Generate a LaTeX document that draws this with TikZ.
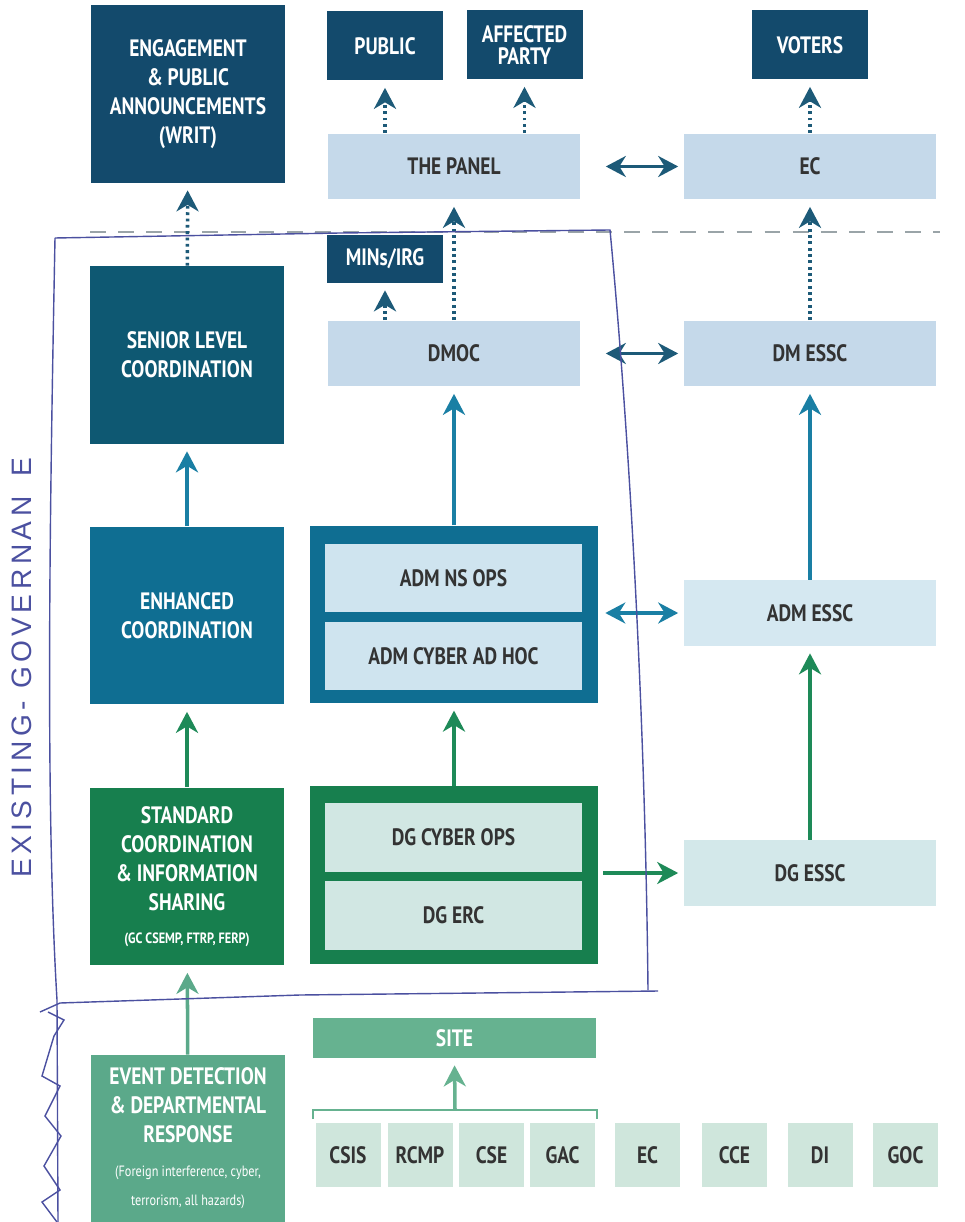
\documentclass[tikz,border=0pt]{standalone}
\usepackage{fontspec}
\setmainfont{PT Sans}[FakeStretch=0.82]
\newfontfamily\penfont{Liberation Sans}[LetterSpace=16]
\usetikzlibrary{arrows.meta}
\definecolor{navyblue}{HTML}{134A6C}
\definecolor{seniorteal}{HTML}{0E5872}
\definecolor{enhancedblue}{HTML}{0F6E92}
\definecolor{standardgreen}{HTML}{177F4E}
\definecolor{eventgreen}{HTML}{5BA98A}
\definecolor{panelblue}{HTML}{C5D9EA}
\definecolor{admfill}{HTML}{CFE4EF}
\definecolor{dgfill}{HTML}{D1E7E3}
\definecolor{admesscfill}{HTML}{D5E8F1}
\definecolor{dgesscfill}{HTML}{D3E8EA}
\definecolor{sitegreen}{HTML}{66B290}
\definecolor{agencymint}{HTML}{CFE6DC}
\definecolor{labelgray}{HTML}{333333}
\definecolor{arrownavy}{HTML}{1D5A78}
\definecolor{arrowteal}{HTML}{1A7FA4}
\definecolor{arrowgreen}{HTML}{1E8A58}
\definecolor{penblue}{HTML}{4B50A0}
\definecolor{sepgray}{HTML}{9AA4A8}
\newcommand{\smalltxt}{\fontsize{8.5}{10.5}\selectfont}

\begin{document}
\begin{tikzpicture}[x=0.02cm,y=-0.02cm,
    font=\bfseries\fontsize{13.5}{16.5}\selectfont,
    box/.style={rectangle,inner sep=0pt,align=center},
    tall/.style={box,minimum width=3.9cm,minimum height=3.56cm,text=white},
    wide/.style={box,minimum width=5.06cm,minimum height=1.32cm,fill=panelblue,text=labelgray},
    top/.style={box,minimum width=2.32cm,minimum height=1.38cm,fill=navyblue,text=white},
    frame/.style={box,minimum width=5.76cm,minimum height=3.55cm},
    inner/.style={box,minimum width=5.14cm,minimum height=1.38cm,text=labelgray},
    agency/.style={box,minimum width=1.3cm,minimum height=1.28cm,fill=agencymint,text=labelgray},
    tip/.style={-{Stealth[length=4.2mm,width=4.4mm,inset=1.3mm]}},
    dotarrow/.style={tip,arrownavy,line width=2pt,dash pattern=on 1.6pt off 2pt,shorten >=0.14cm},
    uparrow/.style={tip,line width=2pt,shorten >=0.14cm},
    twoway/.style={{Stealth[length=4mm,width=4.2mm,inset=1.3mm]}-{Stealth[length=4mm,width=4.2mm,inset=1.3mm]},line width=1.8pt},
    pen/.style={draw=penblue,line width=0.8pt}
]
\useasboundingbox (0,0) rectangle (964,1222);

\node[tall,fill=navyblue] (engage) at (188,94) {ENGAGEMENT\\\& PUBLIC\\ANNOUNCEMENTS\\(WRIT)};
\node[tall,fill=seniorteal] (senior) at (187,355) {SENIOR LEVEL\\COORDINATION};
\node[tall,fill=enhancedblue] (enhanced) at (187,615.5) {ENHANCED\\COORDINATION};
\node[tall,fill=standardgreen] (standard) at (187,876.5) {STANDARD\\COORDINATION\\\& INFORMATION\\SHARING\\[2pt]\smalltxt (GC CSEMP, FTRP, FERP)};
\node[tall,fill=eventgreen,minimum height=3.34cm] (event) at (188,1138.5) {EVENT DETECTION\\\& DEPARTMENTAL\\RESPONSE\\[3pt]\smalltxt\mdseries (Foreign interference, cyber,\\\smalltxt\mdseries terrorism, all hazards)};

\node[top] (public) at (385,46) {PUBLIC};
\node[top,font=\bfseries\fontsize{13.5}{13}\selectfont] (affected) at (524.5,45) {AFFECTED\\PARTY};
\node[top] (voters) at (810,45) {VOTERS};
\node[wide] (panel) at (454,166.5) {THE PANEL};
\node[wide] (ec) at (810,166.5) {EC};
\node[top,minimum height=0.96cm] (mins) at (385,259) {MINs/IRG};
\node[wide] (dmoc) at (454,353.5) {DMOC};
\node[wide] (dmessc) at (810,353.5) {DM ESSC};

\node[frame,fill=enhancedblue] (adm) at (454,614.5) {};
\node[inner,fill=admfill] (admns) at (453.5,578) {ADM NS OPS};
\node[inner,fill=admfill] (admcyber) at (453.5,656) {ADM CYBER AD HOC};
\node[wide,fill=admesscfill] (admessc) at (810,613) {ADM ESSC};

\node[frame,fill=standardgreen] (dg) at (454,875) {};
\node[inner,fill=dgfill] (dgcyber) at (453.5,837) {DG CYBER OPS};
\node[inner,fill=dgfill] (dgerc) at (453.5,915.5) {DG ERC};
\node[wide,fill=dgesscfill] (dgessc) at (810,873) {DG ESSC};

\node[box,minimum width=5.66cm,minimum height=0.8cm,fill=sitegreen,text=white] (site) at (454.5,1038) {SITE};
\foreach \name/\x in {CSIS/348,RCMP/420,CSE/491.5,GAC/562.5,EC/647.5,CCE/734.5,DI/820,GOC/905.5}
    \node[agency] (ag\name) at (\x,1155) {\name};

\coordinate (brl) at (313,1119);
\coordinate (brr) at (597,1119);
\coordinate (brmid) at (455,1110);
\draw[sitegreen,line width=1.6pt] (brl) -- ++(0,-9) -| (brr);
\draw[uparrow,sitegreen] (brmid) -- (site.south);

\draw[sepgray,line width=1.4pt,dash pattern=on 9pt off 7pt] (90,232) -- (940,232);

\draw[dotarrow] (senior) -- (engage);
\draw[dotarrow] (dmoc) -- (panel);
\draw[dotarrow] (mins.south |- dmoc.north) -- (mins);
\draw[dotarrow] (public.south |- panel.north) -- (public);
\draw[dotarrow] (affected.south |- panel.north) -- (affected);
\draw[dotarrow] (ec) -- (voters);
\draw[dotarrow] (dmessc) -- (ec);

\draw[uparrow,arrowteal] (enhanced) -- (senior);
\draw[uparrow,arrowteal] (adm) -- (dmoc);
\draw[uparrow,arrowteal] (admessc) -- (dmessc);
\draw[uparrow,arrowgreen] (standard) -- (enhanced);
\draw[uparrow,arrowgreen] (dg) -- (adm);
\draw[uparrow,arrowgreen] (dgessc) -- (admessc);
\draw[uparrow,eventgreen] (event) -- (standard);

\draw[twoway,arrownavy,shorten <=0.5cm,shorten >=0.1cm] (panel) -- (ec);
\draw[twoway,arrownavy,shorten <=0.5cm,shorten >=0.1cm] (dmoc) -- (dmessc);
\draw[twoway,arrowteal,shorten <=0.14cm,shorten >=0.1cm] (adm.east |- admessc) -- (admessc);
\draw[tip,arrowgreen,line width=1.8pt,shorten <=0.1cm,shorten >=0.1cm] (dg.east |- dgessc) -- (dgessc);

\draw[pen] (55,238) -- (340,233) -- (610,230) .. controls (628,420) and (645,700) .. (648,990);
\draw[pen] (658,991) -- (300,995) -- (60,1003) -- (40,1012);
\draw[pen] (55,238) .. controls (50,500) and (45,800) .. (57,1000) -- (58,1222);
\draw[pen] (48,1012) -- (64,1020) -- (54,1036) -- (42,1076) -- (60,1086) -- (45,1116) -- (61,1136) -- (44,1166) -- (60,1190) -- (42,1202) -- (57,1222);
\node[text=penblue,font=\penfont\fontsize{16}{16}\selectfont,rotate=90] (pentext) at (22,668) {EXISTING- GOVERNAN\hspace{0.7em}E};
\end{tikzpicture}
\end{document}
